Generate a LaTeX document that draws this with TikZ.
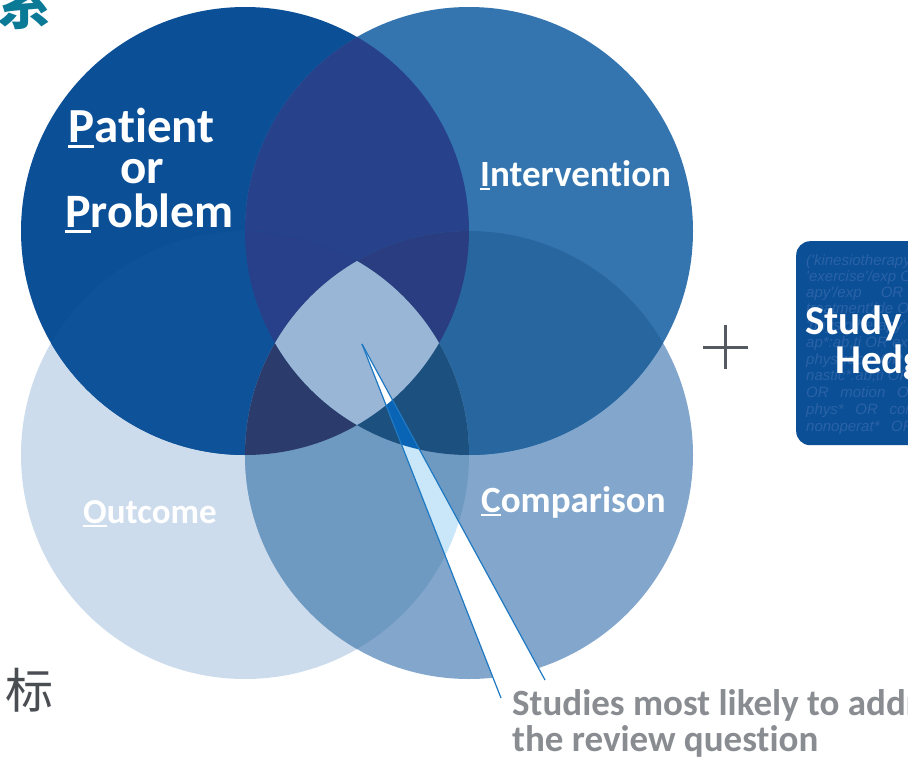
\documentclass[tikz,border=0pt]{standalone}
\usepackage{fontspec}
\setmainfont{Carlito}[Ligatures=NoCommon]
\newfontfamily\cjk{Noto Sans CJK SC}
\newfontfamily\boxfont{Liberation Sans}
\newcommand\fsz[1]{\fontsize{#1}{#1}\selectfont}
\newcommand\ulfirst[1]{\setbox0\hbox{#1}\rlap{\raisebox{-0.12em}{\rule{\wd0}{0.06em}}}\box0}
\definecolor{cP}{HTML}{0B4F97}
\definecolor{cI}{HTML}{3475B0}
\definecolor{cO}{HTML}{CCDCEC}
\definecolor{cC}{HTML}{83A7CC}
\definecolor{cPI}{HTML}{27418A}
\definecolor{cPO}{HTML}{0E5399}
\definecolor{cIC}{HTML}{2866A0}
\definecolor{cOC}{HTML}{6E9AC2}
\definecolor{cPIO}{HTML}{28408A}
\definecolor{cPIC}{HTML}{2A3D80}
\definecolor{cPOC}{HTML}{2B3B6C}
\definecolor{cIOC}{HTML}{1C507F}
\definecolor{cAll}{HTML}{9AB6D6}
\definecolor{wedgeBlue}{HTML}{0A64B5}
\definecolor{wedgeLight}{HTML}{C9E7F9}
\definecolor{wedgeLine}{HTML}{1E78C2}
\definecolor{boxBlue}{HTML}{0B4F97}
\definecolor{boxText}{HTML}{2A62A5}
\definecolor{grayText}{HTML}{898C90}
\definecolor{plusGray}{HTML}{555A60}
\definecolor{teal}{HTML}{0A7A96}
\definecolor{cjkGray}{HTML}{4A4D52}
\def\cP{(245,231) circle [radius=224]}
\def\cI{(469,231) circle [radius=224]}
\def\cO{(245,455) circle [radius=224]}
\def\cC{(469,455) circle [radius=224]}
\begin{document}
\begin{tikzpicture}[x=1pt,y=-1pt,
  lab/.style={text=white, font=\bfseries, inner sep=0pt, anchor=base west},
  boxtxt/.style={text=boxText, font=\boxfont\itshape\fsz{15}, inner sep=0pt, anchor=base west},
  studtxt/.style={text=grayText, font=\bfseries\fsz{37}, inner sep=0pt, anchor=base west},
  hedgebox/.style={fill=boxBlue, rounded corners=14pt, inner sep=0pt, anchor=north west, minimum width=180pt, minimum height=204pt},
  callout/.style={draw=wedgeLine, line width=1.2pt},
  plusline/.style={draw=plusGray, line width=3pt}
]
\useasboundingbox (0,0) rectangle (908,763);
\fill[white] (0,0) rectangle (908,763);
% single circles
\fill[cO] \cO;
\fill[cC] \cC;
\fill[cP] \cP;
\fill[cI] \cI;
% pairs
\begin{scope}\clip \cP; \fill[cPI] \cI; \end{scope}
\begin{scope}\clip \cP; \fill[cPO] \cO; \end{scope}
\begin{scope}\clip \cI; \fill[cIC] \cC; \end{scope}
\begin{scope}\clip \cO; \fill[cOC] \cC; \end{scope}
% triples
\begin{scope}\clip \cP; \clip \cI; \fill[cPIO] \cO; \end{scope}
\begin{scope}\clip \cP; \clip \cI; \fill[cPIC] \cC; \end{scope}
\begin{scope}\clip \cP; \clip \cO; \fill[cPOC] \cC; \end{scope}
\begin{scope}\clip \cI; \clip \cO; \fill[cIOC] \cC; \end{scope}
% all four
\begin{scope}\clip \cP; \clip \cI; \clip \cO; \fill[cAll] \cC; \end{scope}
% callout wedge
\coordinate (tip) at (362,344);
\coordinate (wl) at (501,698);
\coordinate (wr) at (545,680);
\begin{scope}
  \clip (tip) -- (wl) -- (wr) -- cycle;
  \fill[white] (0,0) rectangle (908,763);
  \begin{scope}\clip \cO; \fill[wedgeLight] \cC; \end{scope}
  \begin{scope}\clip \cO; \clip \cC; \fill[wedgeBlue] \cI; \end{scope}
  \begin{scope}\clip \cO; \clip \cC; \clip \cI; \fill[white] \cP; \end{scope}
\end{scope}
\draw[callout] (tip) -- (wl);
\draw[callout] (tip) -- (wr);
% labels
\node[lab, font=\bfseries\fsz{49}] (pat) at (68,142) {\ulfirst{P}atient};
\node[lab, font=\bfseries\fsz{49}, anchor=base] (or) at (142,183) {or};
\node[lab, font=\bfseries\fsz{48}] (prob) at (65,227) {\ulfirst{P}roblem};
\node[lab, font=\bfseries\fsz{37}] (int) at (480,186) {\ulfirst{I}ntervention};
\node[lab, font=\bfseries\fsz{35}] (out) at (83,523) {\ulfirst{O}utcome};
\node[lab, font=\bfseries\fsz{37}] (comp) at (481,512) {\ulfirst{C}omparison};
% callout text
\node[studtxt] (stud1) at (512,715) {Studies most likely to address};
\node[studtxt] (stud2) at (512,751) {the review question};
% plus
\draw[plusline] (703,347) -- (748,347);
\draw[plusline] (725,325) -- (725,369);
% hedges box
\node[hedgebox] (hedge) at (796,241) {};
\node[boxtxt] (b1) at (806,265) {('kinesiotherapy'/exp OR};
\node[boxtxt] (b2) at (806,281) {'exercise'/exp OR 'physiother};
\node[boxtxt] (b3) at (806,297) {apy'/exp \quad OR 'treat};
\node[boxtxt] (b4) at (806,313) {treatment'/de OR};
\node[boxtxt] (b5) at (806,330) {'physiotherapy' OR physiother};
\node[boxtxt] (b6) at (806,347) {ap*:ab,ti OR exercis*};
\node[boxtxt] (b7) at (806,364) {phys*:ab,ti OR gym};
\node[boxtxt] (b8) at (806,380) {nastic*:ab,ti OR};
\node[boxtxt] (b9) at (806,397) {OR \enspace motion \enspace OR};
\node[boxtxt] (b10) at (806,414) {phys* \enspace OR \enspace conservative};
\node[boxtxt] (b11) at (806,431) {nonoperat* \enspace OR};
\node[lab, font=\bfseries\fsz{41}] (study) at (805,334) {Study};
\node[lab, font=\bfseries\fsz{41}] (hedg) at (835,373) {Hedges};
% CJK fragments
\node[inner sep=0pt, anchor=base west, text=teal, font=\cjk\bfseries\fsz{54}] (xi) at (-3,24) {系};
\node[inner sep=0pt, anchor=base west, text=cjkGray, font=\cjk\fsz{48}] (biao) at (5,708) {标};
\end{tikzpicture}
\end{document}
